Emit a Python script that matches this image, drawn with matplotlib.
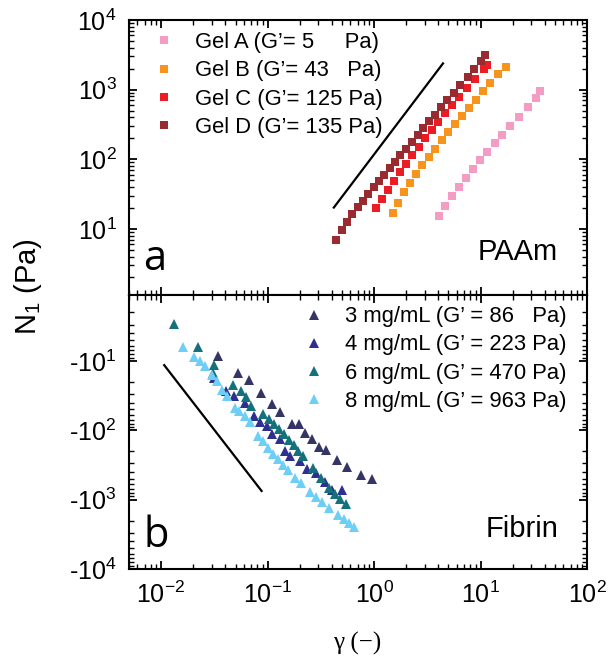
import numpy as np
import matplotlib
matplotlib.use('Agg')
import matplotlib.pyplot as plt
from matplotlib.ticker import LogLocator, FuncFormatter, NullFormatter

plt.rcParams['font.family'] = ['Liberation Sans', 'DejaVu Sans']
plt.rcParams['mathtext.fontset'] = 'custom'
plt.rcParams['mathtext.rm'] = 'Liberation Sans'
plt.rcParams['mathtext.it'] = 'Liberation Sans:italic'
plt.rcParams['mathtext.bf'] = 'Liberation Sans:bold'

# ---------------- data: panel a (PAAm) ----------------
gamma_A = [4.04, 4.66, 5.42, 6.27, 7.23, 8.41, 9.86, 11.6, 13.6, 16.0, 19.0, 22.9, 28.0, 33.0, 36.3]
n1_A = [15.5, 21.5, 29.6, 40.3, 54.1, 71.9, 96.8, 127, 169, 225, 303, 407, 560, 760, 957]

gamma_B = [1.51, 1.69, 1.92, 2.16, 2.48, 2.84, 3.26, 3.73, 4.31, 4.98, 5.74, 6.68, 7.78, 9.04, 10.5, 12.4, 14.7, 17.3]
n1_B = [16.7, 23.8, 33.4, 45.9, 61.1, 82.1, 107, 142, 187, 246, 320, 416, 547, 720, 947, 1259, 1675, 2084]

gamma_C = [1.05, 1.19, 1.34, 1.53, 1.74, 1.98, 2.29, 2.62, 3.03, 3.48, 4.01, 4.67, 5.42, 6.31, 7.50, 8.91, 10.7, 11.6]
n1_C = [19.7, 26.8, 36.1, 48.5, 64.5, 86.7, 114, 152, 200, 262, 345, 454, 597, 785, 1057, 1436, 1950, 2227]

gamma_D = [0.444, 0.498, 0.558, 0.627, 0.703, 0.789, 0.885, 0.993, 1.11, 1.25, 1.40, 1.57, 1.77, 2.01,
           2.25, 2.56, 2.88, 3.28, 3.73, 4.25, 4.83, 5.59, 6.44, 7.55, 8.73, 10.2, 11.1]
n1_D = [6.81, 9.57, 12.7, 16.2, 20.4, 25.4, 31.6, 39.4, 48.5, 59.0, 73.6, 91.6, 114, 142,
        177, 220, 281, 349, 435, 560, 711, 906, 1178, 1535, 1995, 2594, 3126]

labels_a = ["Gel A (G\u2019= 5\u2007\u2007 Pa)", "Gel B (G\u2019= 43\u2007 Pa)",
            "Gel C (G\u2019= 125 Pa)", "Gel D (G\u2019= 135 Pa)"]
colors_a = ["#f59cc4", "#f7941d", "#ec1c24", "#972b30"]

ref_a_gamma = [0.419, 4.44]
ref_a_n1 = [20.2, 2377]

# ---------------- data: panel b (Fibrin) ----------------
gamma_3 = [0.0345, 0.0531, 0.0672, 0.0859, 0.111, 0.132, 0.168, 0.198, 0.225, 0.259, 0.303, 0.352,
           0.453, 0.555, 0.750, 0.957]
n1_3 = [-8.47, -14.7, -18.8, -28.9, -42.2, -55.0, -80.1, -80.1, -109, -135, -176, -194, -271, -338, -436, -498]

gamma_4 = [0.0316, 0.0404, 0.0480, 0.0608, 0.0739, 0.0847, 0.0979, 0.109, 0.130, 0.145, 0.162, 0.201,
           0.237, 0.284, 0.345, 0.401, 0.498]
n1_4 = [-17.4, -26.8, -31.6, -40.8, -62.1, -75.8, -86.6, -115, -135, -201, -237, -274, -357, -417, -562, -718, -726]

gamma_6 = [0.0131, 0.0224, 0.0314, 0.0310, 0.0476, 0.0559, 0.0627, 0.0693, 0.0910, 0.104, 0.116, 0.128,
           0.142, 0.160, 0.177, 0.195, 0.216, 0.268, 0.321, 0.378, 0.428, 0.483, 0.542]
n1_6 = [-2.96, -6.21, -11.5, -14.7, -22.4, -27.1, -32.7, -44.6, -58.8, -69.4, -81.0, -94.6,
        -113, -138, -164, -196, -234, -345, -482, -672, -838, -968, -1143]

gamma_8 = [0.0160, 0.0204, 0.0232, 0.0261, 0.0299, 0.0335, 0.0376, 0.0419, 0.0494, 0.0542, 0.0613, 0.0682,
           0.0818, 0.0910, 0.101, 0.113, 0.126, 0.140, 0.157, 0.180, 0.204, 0.249, 0.284, 0.328, 0.378,
           0.460, 0.520, 0.579, 0.649]
n1_8 = [-6.35, -8.75, -10.0, -11.9, -15.7, -19.4, -26.5, -32.0, -47.1, -52.6, -62.1, -75.8,
        -121, -143, -178, -219, -262, -316, -378, -482, -581, -767, -906, -1069, -1304,
        -1644, -1923, -2195, -2477]

labels_b = ["3 mg/mL (G\u2019 = 86\u2007 Pa)", "4 mg/mL (G\u2019 = 223 Pa)",
            "6 mg/mL (G\u2019 = 470 Pa)", "8 mg/mL (G\u2019 = 963 Pa)"]
colors_b = ["#343466", "#2e3090", "#14707a", "#6dcff6"]

ref_b_gamma = [0.0107, 0.0879]
ref_b_n1 = [-11.5, -750]

# ---------------- figure ----------------
fig = plt.figure(figsize=(6.08, 6.62), dpi=100)
ax1 = fig.add_axes([0.2122, 0.5544, 0.7533, 0.4154])
ax2 = fig.add_axes([0.2122, 0.1405, 0.7533, 0.4139])

for g, n, c, lab in zip([gamma_A, gamma_B, gamma_C, gamma_D], [n1_A, n1_B, n1_C, n1_D], colors_a, labels_a):
    ax1.plot(g, n, ls='none', marker='s', ms=5.2, mfc=c, mec=c, mew=0, label=lab)
ax1.plot(ref_a_gamma, ref_a_n1, color='black', lw=1.6)

for g, n, c, lab in zip([gamma_3, gamma_4, gamma_6, gamma_8], [n1_3, n1_4, n1_6, n1_8], colors_b, labels_b):
    ax2.plot(g, -np.asarray(n), ls='none', marker='^', ms=6.5, mfc=c, mec=c, mew=0, label=lab)
ax2.plot(ref_b_gamma, -np.asarray(ref_b_n1), color='black', lw=1.6)

for ax in (ax1, ax2):
    ax.set_xscale('log')
    ax.set_yscale('log')
    ax.set_xlim(0.005, 100)
    ax.xaxis.set_major_locator(LogLocator(base=10, numticks=20))
    ax.xaxis.set_minor_locator(LogLocator(base=10, subs=np.arange(2, 10), numticks=20))
    ax.yaxis.set_major_locator(LogLocator(base=10, numticks=20))
    ax.yaxis.set_minor_locator(LogLocator(base=10, subs=np.arange(2, 10), numticks=20))
    ax.xaxis.set_minor_formatter(NullFormatter())
    ax.yaxis.set_minor_formatter(NullFormatter())
    ax.tick_params(which='both', direction='in', top=True, right=True, labelsize=18)
    ax.tick_params(which='major', length=6, width=1.3, pad=9)
    ax.tick_params(which='minor', length=3.5, width=1.0)
    for s in ax.spines.values():
        s.set_linewidth(1.5)

ax1.set_ylim(1.12, 1e4)
ax1.tick_params(labelbottom=False)
ax2.set_ylim(1e4, 1.12)
ax2.yaxis.set_major_formatter(FuncFormatter(lambda v, p: '-$10^{%d}$' % int(round(np.log10(v)))))

ax1.legend(loc='upper left', bbox_to_anchor=(0.052, 0.956), frameon=False, fontsize=15.8,
           handlelength=1.0, handletextpad=0.9, labelspacing=0.33, borderpad=0, borderaxespad=0,
           numpoints=1)
ax2.legend(loc='upper left', bbox_to_anchor=(0.380, 0.959), frameon=False, fontsize=15.8,
           handlelength=1.0, handletextpad=0.9, labelspacing=0.33, borderpad=0, borderaxespad=0,
           numpoints=1)

ax1.text(0.030, 0.091, 'a', transform=ax1.transAxes, fontsize=30, family='Open Sans', va='baseline')
ax2.text(0.032, 0.080, 'b', transform=ax2.transAxes, fontsize=30, family='Open Sans', va='baseline')
ax1.text(0.937, 0.127, 'PAAm', transform=ax1.transAxes, fontsize=21, ha='right', va='baseline')
ax2.text(0.937, 0.118, 'Fibrin', transform=ax2.transAxes, fontsize=21, ha='right', va='baseline')

fig.text(28 / 608, 1 - 287 / 662, 'N$_1$ (Pa)', rotation=90, ha='center', va='center', fontsize=21)
fig.text(357 / 608, 1 - 643 / 662, '\u03b3 (\u2212)', ha='center', va='center', fontsize=18,
         family=['Liberation Serif', 'DejaVu Serif'])

fig.savefig('out.png', dpi=100)
